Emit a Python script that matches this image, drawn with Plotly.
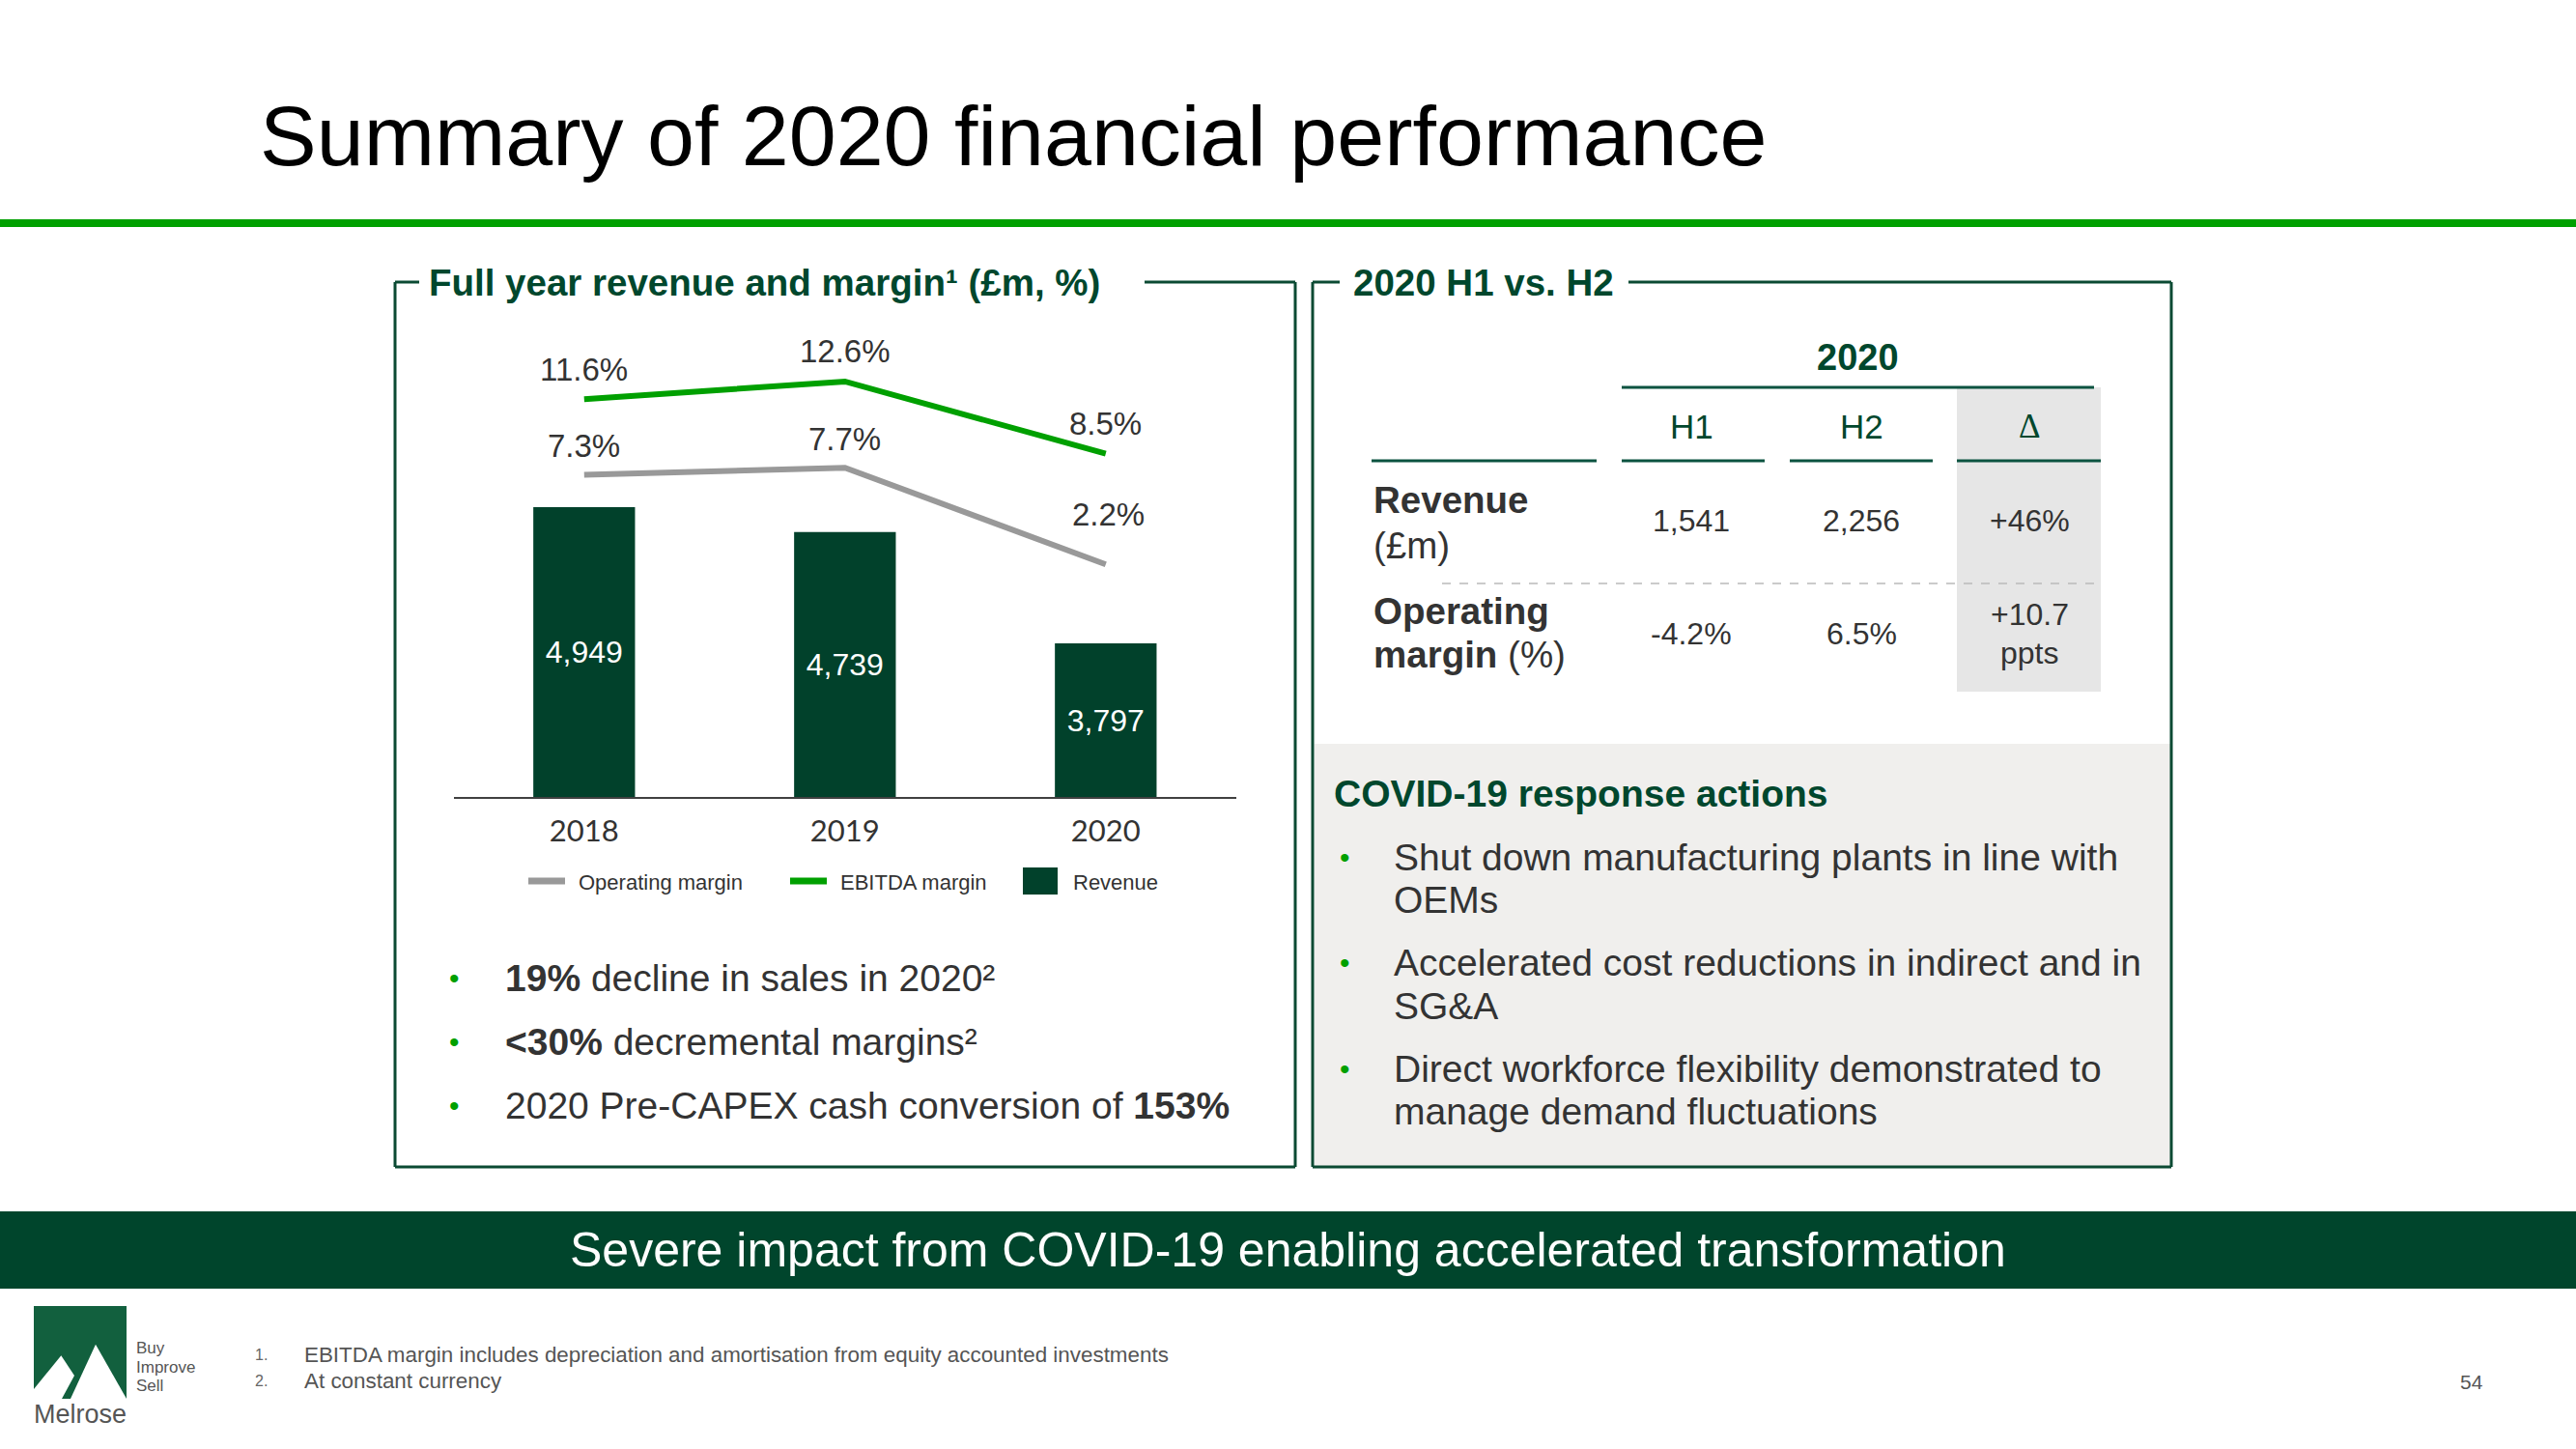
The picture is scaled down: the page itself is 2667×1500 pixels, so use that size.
import plotly.graph_objects as go

# ---------------- data ----------------
years = ["2018", "2019", "2020"]
revenue = [4949, 4739, 3797]              # £m
operating_margin = [7.3, 7.7, 2.2]        # %
ebitda_margin = [11.6, 12.6, 8.5]         # %

table_columns = ["H1", "H2", "Δ"]
revenue_row = ["1,541", "2,256", "+46%"]
margin_row = ["-4.2%", "6.5%", "+10.7"]
margin_row_sub = ["", "", "ppts"]

left_bullets = [
    "<b>19%</b> decline in sales in 2020²",
    "<b><30%</b> decremental margins²",
    "2020 Pre-CAPEX cash conversion of <b>153%</b>",
]
covid_bullets = [
    ["Shut down manufacturing plants in line with", "OEMs"],
    ["Accelerated cost reductions in indirect and in", "SG&A"],
    ["Direct workforce flexibility demonstrated to", "manage demand fluctuations"],
]
footnotes = [
    ("1.", "EBITDA margin includes depreciation and amortisation from equity accounted investments"),
    ("2.", "At constant currency"),
]

# ---------------- helpers ----------------
W, H = 2667, 1500
FONT = "Liberation Sans, Arial, Helvetica, sans-serif"
DKGREEN = "#00472D"
BARGREEN = "#01412B"
BRIGHT = "#00A000"
TXT = "#333333"
LINEGREEN = "#0B5340"


def px(x):
    return x / W


def py(y):
    return 1 - y / H


fig = go.Figure()
shapes = []
ann = []


def text(x, y, s, size, color=TXT, bold=False, xanchor="left", family=FONT):
    if bold:
        s = "<b>" + s + "</b>"
    ann.append(dict(x=px(x), y=py(y), xref="paper", yref="paper", text=s,
                    showarrow=False, xanchor=xanchor, yanchor="middle",
                    font=dict(size=size, color=color, family=family)))


def hline(x0, x1, y, color, width, dash=None):
    shapes.append(dict(type="line", xref="paper", yref="paper",
                       x0=px(x0), x1=px(x1), y0=py(y), y1=py(y),
                       line=dict(color=color, width=width, dash=dash)))


def vline(x, y0, y1, color, width):
    shapes.append(dict(type="line", xref="paper", yref="paper",
                       x0=px(x), x1=px(x), y0=py(y0), y1=py(y1),
                       line=dict(color=color, width=width)))


def rect(x0, y0, x1, y1, fill, layer="below"):
    shapes.append(dict(type="rect", xref="paper", yref="paper",
                       x0=px(x0), x1=px(x1), y0=py(y0), y1=py(y1),
                       fillcolor=fill, line=dict(width=0), layer=layer))


# ---------------- chart traces ----------------
Y_FLOOR = 2500
fig.add_trace(go.Scatter(x=years, y=operating_margin, yaxis="y2", mode="lines",
                         line=dict(color="#999999", width=6), name="Operating margin",
                         showlegend=False))
fig.add_trace(go.Scatter(x=years, y=ebitda_margin, yaxis="y2", mode="lines",
                         line=dict(color=BRIGHT, width=6), name="EBITDA margin",
                         showlegend=False))
fig.add_trace(go.Bar(x=years, y=[r - Y_FLOOR for r in revenue], base=Y_FLOOR,
                     width=0.39, marker=dict(color=BARGREEN, line=dict(width=0)),
                     text=[f"{r:,}" for r in revenue], textposition="inside",
                     insidetextanchor="middle", constraintext="none",
                     textfont=dict(color="white", size=32, family=FONT),
                     name="Revenue", showlegend=False))

# margin labels (anchored to the data through the axes)
for i, v in enumerate(ebitda_margin):
    ann.append(dict(x=i, y=v, xref="x", yref="y2", text=f"{v}%", showarrow=False,
                    yshift=31, font=dict(size=33, color=TXT, family=FONT)))
for i, v in enumerate(operating_margin):
    shift = 52 if i == 2 else 30
    ann.append(dict(x=i, y=v, xref="x", yref="y2", text=f"{v}%", showarrow=False,
                    yshift=shift, xshift=3 if i == 2 else 0,
                    font=dict(size=33, color=TXT, family=FONT)))

hidden_axis = dict(showgrid=False, zeroline=False, showline=False, showticklabels=False,
                   ticks="")
fig.update_layout(
    width=W, height=H, margin=dict(l=0, r=0, t=0, b=0),
    paper_bgcolor="white", plot_bgcolor="rgba(0,0,0,0)",
    showlegend=False,
    xaxis=dict(domain=[px(469.8), px(1279.8)], range=[-0.5, 2.5], type="category",
               showline=True, linecolor="#404040", linewidth=2, showgrid=False,
               zeroline=False, ticks="", ticklabelstandoff=7,
               tickfont=dict(family="Lato, Carlito, sans-serif", size=31, color=TXT)),
    yaxis=dict(domain=[py(825), py(330)], range=[Y_FLOOR, 6541], **hidden_axis),
    yaxis2=dict(domain=[py(825), py(330)], range=[-11.03, 16.17], overlaying="y",
                side="right", **hidden_axis),
)

# ---------------- title ----------------
text(267, 140, "Summary of 2020 financial performance", 88, color="#000000")
rect(0, 227, W, 235, BRIGHT)

# ---------------- left panel ----------------
BORDER = "#0B4A33"
L0, T0, R0, B0 = 409, 292, 1341, 1208
vline(L0, T0, B0, BORDER, 3)
vline(R0, T0, B0, BORDER, 3)
hline(L0, R0, B0, BORDER, 3)
hline(L0, 434, T0, BORDER, 3)
hline(1185, R0, T0, BORDER, 3)
text(442, 292, "Full year revenue and margin¹ (£m, %)", 38.5, color=DKGREEN, bold=True)

# legend (manual)
hline(547, 585, 912, "#999999", 7)
text(597, 914, "Operating margin", 22)
hline(818, 856, 912, BRIGHT, 7)
text(868, 914, "EBITDA margin", 22)
rect(1059, 898, 1095, 926, BARGREEN, layer="above")
text(1109, 914, "Revenue", 22)

# left bullets
for i, b in enumerate(left_bullets):
    y = 1012 + i * 66
    text(463, y, "•", 30, color=BRIGHT)
    text(521, y, b, 39)

# ---------------- right panel ----------------
L1, R1 = 1359, 2248
vline(L1, T0, B0, BORDER, 3)
vline(R1, T0, B0, BORDER, 3)
hline(L1, R1, B0, BORDER, 3)
hline(L1, 1387, T0, BORDER, 3)
hline(1686, R1, T0, BORDER, 3)
text(1399, 292, "2020 H1 vs. H2", 38.5, color=DKGREEN, bold=True)

# table
col_x = [1751, 1927, 2101]
rect(2026, 401, 2175, 716, "#E6E6E6")
text(1923, 370, "2020", 38, color=DKGREEN, bold=True, xanchor="center")
hline(1679, 2168, 401, LINEGREEN, 3)
for cx, c in zip(col_x, table_columns):
    fam = "Liberation Serif, Times New Roman, serif" if c == "Δ" else FONT
    text(cx, 442, c, 35, color=DKGREEN, xanchor="center", family=fam)
for x0, x1 in [(1420, 1653), (1679, 1827), (1853, 2001), (2026, 2175)]:
    hline(x0, x1, 477, LINEGREEN, 3)
text(1420, 517, "Revenue", 38.5, bold=True)
text(1420, 564, "(£m)", 38.5)
for cx, v in zip(col_x, revenue_row):
    text(cx, 539, v, 32, xanchor="center")
hline(1493, 2168, 604, "#BBBBBB", 1.5, dash="dash")
text(1420, 633, "Operating", 38.5, bold=True)
text(1420, 678, "<b>margin</b> (%)", 38.5)
for cx, v, s in zip(col_x, margin_row, margin_row_sub):
    if s:
        text(cx, 636, v, 32, xanchor="center")
        text(cx, 676, s, 32, xanchor="center")
    else:
        text(cx, 656, v, 32, xanchor="center")

# covid section
rect(1361, 770, 2247, 1207, "#F0EFED")
text(1379, 821, "COVID-19 response actions", 39, color=DKGREEN, bold=True)
y = 887
for lines in covid_bullets:
    text(1385, y, "•", 30, color=BRIGHT)
    for ln in lines:
        text(1441, y, ln, 39)
        y += 44.5
    y += 20.5

# ---------------- banner ----------------
rect(0, 1254, W, 1334, "#00452C")
text(1333, 1294, "Severe impact from COVID-19 enabling accelerated transformation", 50,
     color="white", xanchor="center")

# ---------------- footer ----------------
rect(35, 1352, 131, 1448, "#12603E")
shapes.append(dict(type="path", xref="paper", yref="paper", layer="above",
                   path=f"M {px(35)} {py(1448)} L {px(35)} {py(1438)} L {px(63.3)} {py(1403.3)} "
                        f"L {px(77)} {py(1424)} L {px(64)} {py(1448)} Z",
                   fillcolor="white", line=dict(width=0)))
shapes.append(dict(type="path", xref="paper", yref="paper", layer="above",
                   path=f"M {px(73)} {py(1448)} L {px(99)} {py(1391.7)} L {px(131)} {py(1448)} Z",
                   fillcolor="white", line=dict(width=0)))
text(33, 1464, "Melrose", 27, color="#555555")
text(139, 1395, "Buy", 17, color="#555555")
text(139, 1415, "Improve", 17, color="#555555")
text(139, 1434, "Sell", 17, color="#555555")
for i, (n, s) in enumerate(footnotes):
    yy = 1402 + i * 27
    text(262, yy, n, 16, color="#666666")
    text(313, yy, s, 22.4, color="#555555")
text(2559, 1430, "54", 21, color="#555555", xanchor="center")

fig.update_layout(shapes=shapes, annotations=ann)
fig.write_html("out.html", config={"displayModeBar": False},
               post_script="document.body.style.margin='0px';document.body.style.padding='0px';")
